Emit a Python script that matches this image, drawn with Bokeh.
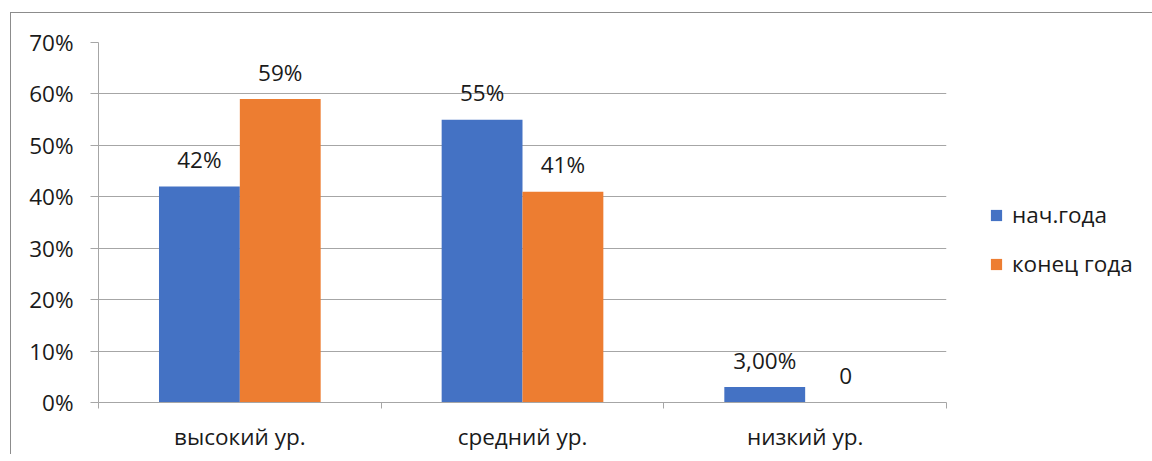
from bokeh.plotting import figure
from bokeh.models import (Range1d, FixedTicker, ColumnDataSource, Legend, LegendItem,
                          LabelSet, NumeralTickFormatter)
from bokeh.core.properties import value
from bokeh.embed import file_html
from bokeh.resources import INLINE

categories = ["высокий ур.", "средний ур.", "низкий ур."]
series_names = ["нач.года", "конец года"]
start_values = [0.42, 0.55, 0.03]
end_values = [0.59, 0.41, 0.0]
start_labels = ["42%", "55%", "3,00%"]
end_labels = ["59%", "41%", "0"]
y_ticks = [0, 0.1, 0.2, 0.3, 0.4, 0.5, 0.6, 0.7]

FONT = "Open Sans"
FS = "22.5px"
BLUE = "#4472C4"
ORANGE = "#ED7D31"
GRID = "#a6a6a6"
TXT = "#1a1a1a"

p = figure(frame_width=848, frame_height=360, output_backend="svg", toolbar_location=None,
           x_range=Range1d(0, len(categories)), y_range=Range1d(0, 0.7),
           min_border_left=87, min_border_right=0, min_border_top=29, min_border_bottom=47)
p.outline_line_color = None
p.background_fill_color = "white"
p.border_fill_color = "white"
p.styles = {"border-left": "1px solid #8c8c8c", "border-top": "1px solid #8c8c8c",
            "margin-left": "10px", "margin-top": "12px"}

n = len(categories)
centers = [i + 0.5 for i in range(n)]
bw = 0.286
off = 0.143
src1 = ColumnDataSource(dict(x=[c - off for c in centers], top=start_values, lab=start_labels))
src2 = ColumnDataSource(dict(x=[c + off for c in centers], top=end_values, lab=end_labels))
r1 = p.vbar(x="x", top="top", width=bw, source=src1, fill_color=BLUE, line_color=None)
r2 = p.vbar(x="x", top="top", width=bw, source=src2, fill_color=ORANGE, line_color=None)

for s in (src1, src2):
    p.add_layout(LabelSet(x="x", y="top", text="lab", source=s, text_align="center",
                          text_baseline="middle", y_offset=27, text_font=value(FONT),
                          text_font_size=value(FS), text_color=TXT))

# axes
p.yaxis.ticker = FixedTicker(ticks=y_ticks)
p.yaxis.formatter = NumeralTickFormatter(format="0%")
p.yaxis.major_tick_out = 8
p.yaxis.major_tick_in = 0
p.yaxis.minor_tick_line_color = None
p.yaxis.axis_line_color = GRID
p.yaxis.major_tick_line_color = GRID
p.yaxis.major_label_text_font = FONT
p.yaxis.major_label_text_font_size = FS
p.yaxis.major_label_text_color = TXT
p.yaxis.major_label_standoff = 17

p.xaxis.ticker = FixedTicker(ticks=centers, minor_ticks=list(range(n + 1)))
p.xaxis.major_label_overrides = {c: categories[i] for i, c in enumerate(centers)}
p.xaxis.major_tick_line_color = None
p.xaxis.minor_tick_out = 6
p.xaxis.minor_tick_in = 0
p.xaxis.minor_tick_line_color = GRID
p.xaxis.axis_line_color = GRID
p.xaxis.major_label_text_font = FONT
p.xaxis.major_label_text_font_size = FS
p.xaxis.major_label_text_color = TXT
p.xaxis.major_label_standoff = 12

p.xgrid.grid_line_color = None
p.ygrid.ticker = FixedTicker(ticks=y_ticks)
p.ygrid.grid_line_color = GRID

legend = Legend(items=[LegendItem(label=series_names[0], renderers=[r1]),
                       LegendItem(label=series_names[1], renderers=[r2])],
                location=(43, 123), orientation="vertical",
                glyph_width=14, glyph_height=14, label_standoff=9,
                label_text_font=FONT, label_text_font_size=FS, label_text_color=TXT,
                label_height=20, spacing=18, padding=0, margin=0,
                border_line_color=None, background_fill_alpha=0)
p.add_layout(legend, "right")

open("out.html", "w").write(file_html(p, INLINE))
